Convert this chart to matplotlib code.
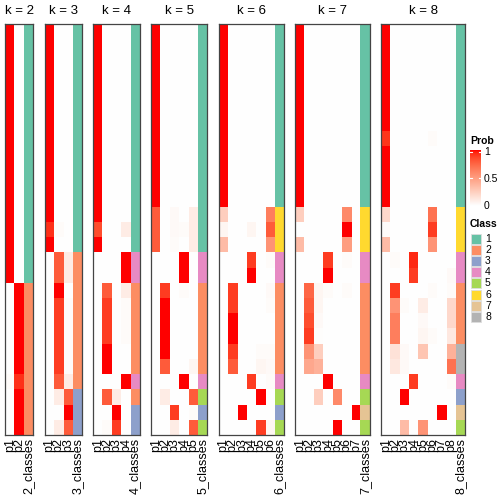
import numpy as np
import matplotlib
matplotlib.use('Agg')
import matplotlib.pyplot as plt
from matplotlib.colors import ListedColormap, BoundaryNorm, LinearSegmentedColormap
from matplotlib.patches import Rectangle

plt.rcParams['font.family'] = ['Liberation Sans', 'DejaVu Sans']

# membership probabilities (rows = samples, columns = p1..pk)
prob_k2 = [
    [1, 0], [1, 0], [1, 0], [1, 0], [1, 0], [1, 0], [1, 0], [1, 0], [1, 0],
    [1, 0], [1, 0], [1, 0], [1, 0], [1, 0], [1, 0], [1, 0], [1, 0],
    [0, 1], [0, 1], [0, 1], [0, 1], [0, 1], [0, 1], [0.02, 0.93], [0, 1],
    [0, 1], [0, 1],
]
class_k2 = [1, 1, 1, 1, 1, 1, 1, 1, 1, 1, 1, 1, 1, 1, 1, 1, 1,
            2, 2, 2, 2, 2, 2, 2, 2, 2, 2]

prob_k3 = [
    [1, 0, 0], [1, 0, 0], [1, 0, 0], [1, 0, 0], [1, 0, 0], [1, 0, 0], [1, 0, 0],
    [1, 0, 0], [1, 0, 0], [1, 0, 0], [1, 0, 0], [1, 0, 0], [1, 0, 0],
    [0.93, 0.02, 0], [1, 0, 0],
    [0, 0.8, 0.1], [0, 0.8, 0.1], [0, 1, 0],
    [0, 0.9, 0.02], [0, 0.9, 0.02], [0, 0.9, 0.02], [0, 0.9, 0.02], [0, 0.9, 0.02],
    [0, 0.8, 0.1], [0, 0.1, 0.8], [0, 0, 1], [0, 0.1, 0.8],
]
class_k3 = [1, 1, 1, 1, 1, 1, 1, 1, 1, 1, 1, 1, 1, 1, 1,
            2, 2, 2, 2, 2, 2, 2, 2, 2, 3, 3, 3]

prob_k4 = [
    [1, 0, 0, 0], [1, 0, 0, 0], [1, 0, 0, 0], [1, 0, 0, 0], [1, 0, 0, 0],
    [1, 0, 0, 0], [1, 0, 0, 0], [1, 0, 0, 0], [1, 0, 0, 0], [1, 0, 0, 0],
    [1, 0, 0, 0], [1, 0, 0, 0], [1, 0, 0, 0], [0.85, 0, 0, 0.1], [1, 0, 0, 0],
    [0, 0, 0, 1], [0, 0, 0, 1],
    [0, 0.8, 0, 0.1], [0, 0.9, 0, 0.02], [0, 0.9, 0, 0.02], [0, 0.9, 0, 0.02],
    [0, 1, 0, 0], [0, 1, 0, 0],
    [0, 0, 0, 1], [0, 0.8, 0.1, 0], [0, 0, 1, 0], [0, 0.02, 0.9, 0],
]
class_k4 = [1, 1, 1, 1, 1, 1, 1, 1, 1, 1, 1, 1, 1, 1, 1,
            4, 4, 2, 2, 2, 2, 2, 2, 4, 2, 3, 3]

prob_k5 = [
    [1, 0, 0, 0, 0], [1, 0, 0, 0, 0], [1, 0, 0, 0, 0], [1, 0, 0, 0, 0],
    [1, 0, 0, 0, 0], [1, 0, 0, 0, 0], [1, 0, 0, 0, 0], [1, 0, 0, 0, 0],
    [1, 0, 0, 0, 0], [1, 0, 0, 0, 0], [1, 0, 0, 0, 0], [1, 0, 0, 0, 0],
    [0.8, 0, 0.03, 0, 0.1], [0.8, 0, 0.03, 0.02, 0.1], [0.8, 0, 0.02, 0, 0.1],
    [0, 0, 0, 1, 0], [0, 0, 0, 1, 0],
    [0, 0.9, 0, 0.02, 0], [0, 1, 0, 0, 0], [0, 1, 0, 0, 0], [0, 1, 0, 0, 0],
    [0, 1, 0, 0, 0], [0, 0.8, 0, 0, 0.05],
    [0, 0, 0, 1, 0], [0, 0.1, 0, 0, 0.8], [0, 0, 0.9, 0, 0.02], [0, 0, 0.1, 0, 0.8],
]
class_k5 = [1, 1, 1, 1, 1, 1, 1, 1, 1, 1, 1, 1, 1, 1, 1,
            4, 4, 2, 2, 2, 2, 2, 2, 4, 5, 3, 5]

prob_k6 = [
    [1, 0, 0, 0, 0, 0], [1, 0, 0, 0, 0, 0], [1, 0, 0, 0, 0, 0], [1, 0, 0, 0, 0, 0],
    [1, 0, 0, 0, 0, 0], [1, 0, 0, 0, 0, 0], [1, 0, 0, 0, 0, 0], [1, 0, 0, 0, 0, 0],
    [1, 0, 0, 0, 0, 0], [1, 0, 0, 0, 0, 0], [1, 0, 0, 0, 0, 0], [1, 0, 0, 0, 0, 0],
    [0.25, 0, 0, 0, 0, 0.65], [0.05, 0, 0, 0.05, 0, 0.8], [0.35, 0, 0, 0, 0, 0.55],
    [0, 0, 0, 0.9, 0, 0.02], [0, 0, 0, 1, 0, 0],
    [0, 0.9, 0, 0, 0, 0.03], [0, 0.9, 0, 0, 0, 0.02], [0, 1, 0, 0, 0, 0],
    [0, 1, 0, 0, 0, 0], [0, 0.9, 0, 0, 0.02, 0.02], [0, 0.8, 0, 0, 0.05, 0.03],
    [0, 0, 0, 0.9, 0, 0.02], [0, 0, 0, 0, 1, 0], [0, 0, 1, 0, 0, 0],
    [0, 0, 0, 0, 0.9, 0.05],
]
class_k6 = [1, 1, 1, 1, 1, 1, 1, 1, 1, 1, 1, 1, 6, 6, 6,
            4, 4, 2, 2, 2, 2, 2, 2, 4, 5, 3, 5]

prob_k7 = [
    [1, 0, 0, 0, 0, 0, 0], [1, 0, 0, 0, 0, 0, 0], [1, 0, 0, 0, 0, 0, 0],
    [1, 0, 0, 0, 0, 0, 0], [1, 0, 0, 0, 0, 0, 0], [1, 0, 0, 0, 0, 0, 0],
    [1, 0, 0, 0, 0, 0, 0], [1, 0, 0, 0, 0, 0, 0], [1, 0, 0, 0, 0, 0, 0],
    [1, 0, 0, 0, 0, 0, 0], [1, 0, 0, 0, 0, 0, 0], [1, 0, 0, 0, 0, 0, 0],
    [0.25, 0, 0, 0, 0, 0.6, 0], [0, 0, 0, 0, 0, 1, 0], [0.35, 0, 0, 0, 0, 0.5, 0],
    [0, 0, 0, 0.9, 0, 0.02, 0], [0, 0, 0, 1, 0, 0, 0],
    [0, 0.75, 0.05, 0.02, 0, 0.02, 0], [0, 0.8, 0.05, 0, 0, 0, 0],
    [0, 0.85, 0.03, 0, 0, 0, 0], [0, 0.9, 0.01, 0, 0, 0, 0],
    [0, 0.55, 0.25, 0, 0, 0, 0], [0, 0.45, 0.4, 0, 0, 0, 0],
    [0, 0, 0, 1, 0, 0, 0], [0, 0, 0.25, 0, 0.6, 0, 0], [0, 0, 0, 0, 0, 0, 1],
    [0, 0, 0, 0, 1, 0, 0],
]
class_k7 = [1, 1, 1, 1, 1, 1, 1, 1, 1, 1, 1, 1, 6, 6, 6,
            4, 4, 2, 2, 2, 2, 2, 2, 4, 5, 7, 5]

prob_k8 = [
    [1, 0, 0, 0, 0, 0, 0, 0], [1, 0, 0, 0, 0, 0, 0, 0], [1, 0, 0, 0, 0, 0, 0, 0],
    [1, 0, 0, 0, 0, 0, 0, 0], [1, 0, 0, 0, 0, 0, 0, 0], [1, 0, 0, 0, 0, 0, 0, 0],
    [1, 0, 0, 0, 0, 0, 0, 0], [0.92, 0, 0, 0, 0, 0.02, 0, 0],
    [1, 0, 0, 0, 0, 0, 0, 0], [1, 0, 0, 0, 0, 0, 0, 0], [1, 0, 0, 0, 0, 0, 0, 0],
    [1, 0, 0, 0, 0, 0, 0, 0],
    [0.2, 0, 0, 0, 0, 0.7, 0, 0], [0.02, 0, 0, 0, 0, 0.9, 0, 0],
    [0.35, 0, 0, 0, 0, 0.55, 0, 0],
    [0, 0.02, 0, 0.95, 0, 0, 0, 0], [0, 0, 0, 0.9, 0, 0, 0, 0.03],
    [0, 0.9, 0, 0, 0, 0.02, 0, 0.02], [0, 0.55, 0.02, 0, 0.1, 0, 0, 0.2],
    [0, 0.65, 0, 0, 0.03, 0, 0, 0.2], [0, 0.65, 0, 0, 0.05, 0.02, 0, 0.12],
    [0, 0.15, 0.03, 0, 0.3, 0, 0, 0.4], [0, 0.12, 0.03, 0, 0, 0, 0, 0.7],
    [0, 0, 0, 0.9, 0, 0, 0, 0.02], [0, 0, 1, 0, 0, 0, 0, 0],
    [0, 0, 0, 0, 0, 0, 1, 0], [0, 0, 0.35, 0, 0.55, 0, 0, 0],
]
class_k8 = [1, 1, 1, 1, 1, 1, 1, 1, 1, 1, 1, 1, 6, 6, 6,
            4, 4, 2, 2, 2, 2, 8, 8, 4, 3, 7, 5]

ks = [2, 3, 4, 5, 6, 7, 8]
probs = [prob_k2, prob_k3, prob_k4, prob_k5, prob_k6, prob_k7, prob_k8]
classes = [class_k2, class_k3, class_k4, class_k5, class_k6, class_k7, class_k8]

class_colors = ['#66C2A5', '#FC8D62', '#8DA0CB', '#E78AC3',
                '#A6D854', '#FFD92F', '#E5C494', '#B3B3B3']
class_labels = ['1', '2', '3', '4', '5', '6', '7', '8']


def lab_ramp(c0, c1, n=256):
    """white -> red ramp interpolated in CIE Lab (like colorRamp2)."""
    M = np.array([[0.4124, 0.3576, 0.1805],
                  [0.2126, 0.7152, 0.0722],
                  [0.0193, 0.1192, 0.9505]])
    wp = np.array([0.95047, 1.0, 1.08883])
    d = 6 / 29

    def to_lab(rgb):
        c = np.array(rgb, dtype=float)
        c = np.where(c > 0.04045, ((c + 0.055) / 1.055) ** 2.4, c / 12.92)
        xyz = M @ c / wp
        f = np.where(xyz > d ** 3, np.cbrt(xyz), xyz / (3 * d * d) + 4 / 29)
        return np.array([116 * f[1] - 16, 500 * (f[0] - f[1]), 200 * (f[1] - f[2])])

    def to_rgb(lab):
        fy = (lab[0] + 16) / 116
        f = np.array([fy + lab[1] / 500, fy, fy - lab[2] / 200])
        xyz = np.where(f > d, f ** 3, 3 * d * d * (f - 4 / 29)) * wp
        c = np.linalg.solve(M, xyz)
        c = np.clip(c, 0, 1)
        c = np.where(c > 0.0031308, 1.055 * c ** (1 / 2.4) - 0.055, 12.92 * c)
        return np.clip(c, 0, 1)

    l0, l1 = to_lab(c0), to_lab(c1)
    cols = [to_rgb(l0 + (l1 - l0) * t) for t in np.linspace(0, 1, n)]
    return LinearSegmentedColormap.from_list('prob', cols)


prob_cmap = lab_ramp((1, 1, 1), (1, 0, 0))
class_cmap = ListedColormap(class_colors)
class_norm = BoundaryNorm(np.arange(0.5, 9.5, 1), 8)

W = H = 504
fig = plt.figure(figsize=(W / 100, H / 100), dpi=100)


def px_axes(x0, y0, x1, y1):
    return fig.add_axes([x0 / W, 1 - y1 / H, (x1 - x0) / W, (y1 - y0) / H])


col_w = 9.3
gap = 11.5
top, bottom = 24, 435
x = 5.3
for k, p, cl in zip(ks, probs, classes):
    p = np.array(p)
    n_rows = len(cl)
    x1 = x + (k + 1) * col_w
    ax = px_axes(x, top, x1, bottom)
    ax.imshow(p, cmap=prob_cmap, vmin=0, vmax=1, aspect='auto',
              interpolation='nearest', extent=(0, k, n_rows, 0))
    ax.imshow(np.array(cl).reshape(-1, 1), cmap=class_cmap, norm=class_norm,
              aspect='auto', interpolation='nearest',
              extent=(k, k + 1, n_rows, 0))
    ax.set_xlim(0, k + 1)
    ax.set_ylim(n_rows, 0)
    ax.set_yticks([])
    labels = [f'p{i + 1}' for i in range(k)] + [f'{k}_classes']
    ax.set_xticks(np.arange(k + 1) + 0.5)
    ax.set_xticklabels(labels, rotation=90, fontsize=9, va='top')
    ax.tick_params(axis='x', length=0, pad=2)
    for s in ax.spines.values():
        s.set_color('#444444')
        s.set_linewidth(0.9)
    fig.text((x + x1) / 2 / W, 1 - 10.5 / H, f'k = {k}', ha='center',
             va='center', fontsize=9.5)
    x = x1 + gap

# legend: Prob colour bar
fig.text(470 / W, 1 - 141 / H, 'Prob', fontsize=7.5, fontweight='bold',
         ha='left', va='center')
cax = px_axes(470, 150, 481, 206)
grad = np.linspace(1, 0, 100).reshape(-1, 1)
cax.imshow(grad, cmap=prob_cmap, vmin=0, vmax=1, aspect='auto',
           extent=(0, 1, 0, 1))
cax.set_xlim(0, 1)
cax.set_ylim(0, 1)
cax.axis('off')
for v in [0.5, 0.97]:
    cax.plot([0, 0.2], [v, v], color='white', lw=0.8)
    cax.plot([0.8, 1], [v, v], color='white', lw=0.8)
for v, lab in zip([1, 0.5, 0], ['1', '0.5', '0']):
    fig.text(484 / W, 1 - (206 - v * 54) / H, lab, fontsize=7.5,
             ha='left', va='center')

# legend: Class swatches
fig.text(470 / W, 1 - 224 / H, 'Class', fontsize=7.5, fontweight='bold',
         ha='left', va='center')
lax = px_axes(470, 233, 500, 324)
lax.set_xlim(0, 30)
lax.set_ylim(91, 0)
lax.axis('off')
for i, (c, lab) in enumerate(zip(class_colors, class_labels)):
    lax.add_patch(Rectangle((1, i * 11.2 + 0.5), 10, 10, facecolor=c,
                            edgecolor='#dddddd', lw=0.6))
    lax.text(15, i * 11.2 + 5.5, lab, fontsize=7.5, ha='left', va='center')

fig.savefig('out.png', dpi=100)
